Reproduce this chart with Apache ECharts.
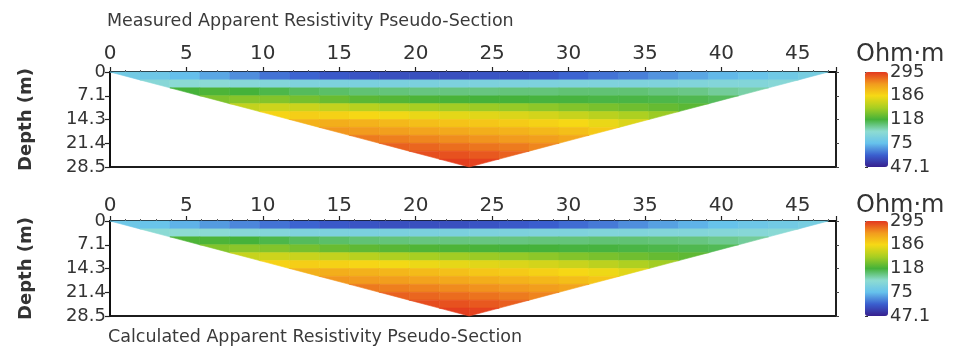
<!DOCTYPE html>
<html>
<head>
<meta charset="utf-8">
<title>Apparent Resistivity Pseudo-Sections</title>
<script src="https://cdn.jsdelivr.net/npm/echarts@6/dist/echarts.min.js"></script>
<style>
  html, body { margin: 0; padding: 0; background: #fff; }
  #chart { width: 955px; height: 351px; }
</style>
</head>
<body>
<div id="chart"></div>
<script>
// axis ticks
const depthLabels = ['0', '7.1', '14.3', '21.4', '28.5'];
const barLabels = ['47.1', '75', '118', '186', '295'];
const rhoMin = 47.1;
const rhoMax = 295;
const lineLength = 47;   // m along the surface
const maxDepth = 28.5;   // m

// apparent resistivity (Ohm·m), one row per depth level, top to bottom.
// row k starts at column k and stops at column 23 - k (the pseudo-section triangle)
const measuredRows = [
    [80, 78, 74, 70, 66, 62, 60, 58, 57, 56, 56, 56, 57, 57, 58, 60, 62, 64, 67, 70, 73, 76, 79, 82],
    [90, 92, 92, 90, 88, 86, 85, 84, 84, 84, 85, 85, 85, 85, 86, 86, 86, 86, 87, 88, 88, 90],
    [118, 120, 118, 115, 112, 110, 108, 107, 106, 106, 106, 107, 107, 108, 108, 108, 106, 105, 102, 100],
    [134, 137, 136, 132, 128, 124, 122, 120, 119, 118, 118, 117, 117, 116, 116, 115, 114, 112],
    [160, 165, 164, 160, 155, 151, 148, 146, 144, 142, 139, 136, 133, 130, 127, 124],
    [190, 194, 192, 188, 184, 180, 177, 175, 172, 168, 162, 156, 150, 144],
    [215, 218, 215, 210, 206, 202, 200, 196, 192, 187, 180, 172],
    [236, 234, 230, 226, 222, 218, 215, 210, 205, 198],
    [252, 250, 246, 242, 238, 234, 230, 224],
    [268, 265, 260, 256, 252, 246],
    [280, 278, 274, 268],
    [290, 288]
];

const calculatedRows = [
    [78, 76, 72, 68, 65, 62, 60, 58, 57, 56, 56, 56, 57, 58, 59, 61, 63, 66, 69, 72, 75, 78, 80, 82],
    [92, 93, 92, 90, 88, 86, 85, 84, 84, 84, 84, 85, 85, 86, 86, 87, 87, 88, 88, 89, 90, 91],
    [120, 120, 118, 115, 112, 110, 108, 107, 106, 106, 106, 106, 107, 107, 108, 108, 107, 106, 104, 102],
    [136, 138, 136, 132, 128, 125, 123, 121, 120, 119, 118, 118, 117, 117, 116, 115, 114, 113],
    [162, 165, 163, 160, 155, 151, 148, 146, 144, 142, 139, 136, 133, 130, 127, 125],
    [191, 194, 192, 189, 185, 181, 178, 175, 172, 168, 163, 157, 151, 146],
    [216, 218, 216, 212, 208, 204, 200, 197, 193, 188, 182, 175],
    [236, 234, 231, 227, 223, 219, 215, 211, 206, 200],
    [253, 250, 247, 243, 239, 235, 231, 226],
    [268, 265, 261, 257, 252, 247],
    [281, 278, 274, 269],
    [291, 288]
];

const nCols = measuredRows[0].length;
const nRows = measuredRows.length;
const colW = lineLength / nCols;
const rowH = maxDepth / nRows;
const depthStep = maxDepth / 4;

// [x0, x1, d0, d1, rho, log10(rho), kind]  kind: 0 full cell, 1 left edge, 2 right edge
function toCells(rows) {
    const cells = [];
    rows.forEach((row, k) => {
        row.forEach((rho, i) => {
            const col = k + i;
            let kind = 0;
            if (col === k) kind = 1;
            else if (col === nCols - 1 - k) kind = 2;
            cells.push([col * colW, (col + 1) * colW, k * rowH, (k + 1) * rowH, rho, Math.log10(rho), kind]);
        });
    });
    return cells;
}

function renderCell(params, api) {
    const x0 = api.value(0), x1 = api.value(1);
    const d0 = api.value(2), d1 = api.value(3);
    const kind = api.value(6);
    let pts;
    if (kind === 1) pts = [[x0, d0], [x1, d0], [x1, d1]];
    else if (kind === 2) pts = [[x0, d0], [x1, d0], [x0, d1]];
    else pts = [[x0, d0], [x1, d0], [x1, d1], [x0, d1]];
    const color = api.visual('color');
    return {
        type: 'polygon',
        shape: { points: pts.map(p => api.coord(p)) },
        style: { fill: color, stroke: color, lineWidth: 0.6 }
    };
}

const rampColors = ['#37208f', '#3a5fcf', '#66c2ec', '#8edcd2', '#45b23a',
                    '#a9cf22', '#f6d915', '#f29a1e', '#e3381f'];
const font = 'DejaVu Sans';
const ink = '#333';

const panelTops = [72, 221];
const plotLeft = 110;
const plotWidth = 726;
const plotHeight = 95;
const barLeft = 865;

const grids = [];
const xAxes = [];
const yAxes = [];
const series = [];
const visualMaps = [];

[measuredRows, calculatedRows].forEach((rows, p) => {
    const top = panelTops[p];
    grids.push({ left: plotLeft, top: top, width: plotWidth, height: plotHeight,
                 show: true, borderColor: '#1c1c1c', borderWidth: 2 });
    xAxes.push({
        gridIndex: p, type: 'value', position: 'top', min: 0, max: 47.5, interval: 5,
        axisLine: { show: true, onZero: false, lineStyle: { color: '#111', width: 2 } },
        axisTick: { show: true, length: 5, lineStyle: { color: '#222', width: 1.2 } },
        minorTick: { show: true, splitNumber: 5, length: 2, lineStyle: { color: '#555' } },
        axisLabel: { fontSize: 20, color: ink, fontFamily: font, margin: p === 0 ? 8 : 5, showMaxLabel: false },
        splitLine: { show: false }
    });
    yAxes.push({
        gridIndex: p, type: 'value', inverse: true, min: 0, max: maxDepth, interval: depthStep,
        name: 'Depth (m)', nameLocation: 'middle', nameRotate: 90, nameGap: 75,
        nameTextStyle: { fontSize: 18, fontWeight: 'bold', color: ink, fontFamily: font },
        axisLine: { show: true, lineStyle: { color: '#111', width: 2 } },
        axisTick: { show: true, length: 5, lineStyle: { color: '#222', width: 1.2 } },
        axisLabel: { fontSize: 18, color: ink, fontFamily: font, margin: 4,
                     formatter: v => depthLabels[Math.round(v / depthStep)] },
        splitLine: { show: false }
    });
    yAxes.push({
        gridIndex: p, type: 'value', inverse: true, position: 'right', min: 0, max: maxDepth, interval: depthStep,
        axisLine: { show: true, lineStyle: { color: '#222', width: 1.5 } },
        axisTick: { show: true, length: 3, lineStyle: { color: '#444' } },
        axisLabel: { show: false },
        splitLine: { show: false }
    });
    series.push({
        type: 'custom',
        name: p === 0 ? 'Measured' : 'Calculated',
        coordinateSystem: 'cartesian2d',
        xAxisIndex: p,
        yAxisIndex: p * 2,
        dimensions: ['x0', 'x1', 'd0', 'd1', 'rho', 'logRho', 'kind'],
        encode: { x: [0, 1], y: [2, 3] },
        renderItem: renderCell,
        data: toCells(rows),
        silent: true
    });
    visualMaps.push({
        type: 'continuous',
        seriesIndex: p,
        dimension: 5,
        min: Math.log10(rhoMin),
        max: Math.log10(rhoMax),
        calculable: false,
        hoverLink: false,
        left: barLeft,
        top: top,
        itemWidth: 23,
        itemHeight: plotHeight,
        padding: 0,
        inRange: { color: rampColors }
    });
});

// colour bar labels, as an axis beside each bar
panelTops.forEach((top, p) => {
    const g = grids.length;
    grids.push({ left: barLeft, top: top, width: 23, height: plotHeight });
    xAxes.push({ gridIndex: g, type: 'value', min: 0, max: 1, show: false });
    yAxes.push({
        gridIndex: g, type: 'value', position: 'right', min: 0, max: barLabels.length - 1, interval: 1,
        axisLine: { show: false },
        axisTick: { show: true, length: 3, lineStyle: { color: '#333' } },
        axisLabel: { fontSize: 18, color: ink, fontFamily: font, margin: 2,
                     formatter: v => barLabels[Math.round(v)] },
        splitLine: { show: false }
    });
});

const titleStyle = { fontSize: 17.5, fontWeight: 'normal', color: '#3a3a3a', fontFamily: font };
const unitStyle = { fontSize: 24, fontWeight: 'normal', color: ink, fontFamily: font };

const option = {
    animation: false,
    backgroundColor: '#fff',
    textStyle: { fontFamily: font },
    title: [
        { text: 'Measured Apparent Resistivity Pseudo-Section', left: 107, top: 12, padding: 0, textStyle: titleStyle },
        { text: 'Calculated Apparent Resistivity Pseudo-Section', left: 108, top: 328, padding: 0, textStyle: titleStyle },
        { text: 'Ohm·m', left: 856, top: 43, padding: 0, textStyle: unitStyle },
        { text: 'Ohm·m', left: 856, top: 194, padding: 0, textStyle: unitStyle }
    ],
    grid: grids,
    xAxis: xAxes,
    yAxis: yAxes,
    visualMap: visualMaps,
    series: series
};

const chart = echarts.init(document.getElementById('chart'));
chart.setOption(option);
</script>
</body>
</html>
